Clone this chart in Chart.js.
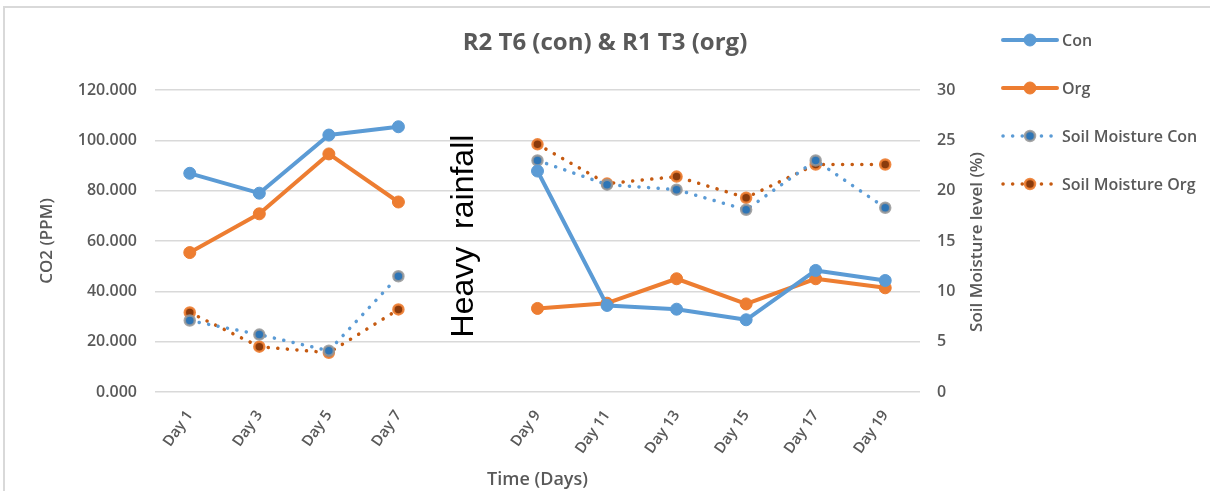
<!DOCTYPE html>
<html>
<head>
<meta charset="utf-8">
<script src="https://cdn.jsdelivr.net/npm/chart.js@4/dist/chart.umd.min.js"></script>
<style>
  html, body { margin: 0; padding: 0; background: #ffffff; }
  #wrap { width: 1210px; height: 491px; }
</style>
</head>
<body>
<div id="wrap"><canvas id="c" width="1210" height="491"></canvas></div>
<script>
// Sampling days (blank slot marks the heavy-rainfall break)
const days = ['Day 1', 'Day 3', 'Day 5', 'Day 7', '', 'Day 9', 'Day 11', 'Day 13', 'Day 15', 'Day 17', 'Day 19'];

// CO2 concentration (PPM)
const co2Con = [86.9, 79.0, 102.1, 105.4, null, 87.8, 34.4, 32.9, 28.7, 48.3, 44.3];
const co2Org = [55.4, 70.8, 94.6, 75.5, null, 33.2, 35.3, 45.0, 35.0, 45.0, 41.4];

// Soil moisture level (%)
const moistCon = [7.1, 5.7, 4.1, 11.5, null, 23.0, 20.6, 20.1, 18.1, 23.0, 18.3];
const moistOrg = [7.9, 4.5, 3.9, 8.2, null, 24.6, 20.7, 21.4, 19.3, 22.6, 22.6];

const co2Ticks = [0, 20, 40, 60, 80, 100, 120];
const moistTicks = [0, 5, 10, 15, 20, 25, 30];

const GREY = '#595959';
const FONT = "'Open Sans', 'Liberation Sans', sans-serif";

// White background + frame along the top and left edges
const framePlugin = {
  id: 'frame',
  beforeDraw(chart) {
    const ctx = chart.ctx;
    ctx.save();
    ctx.fillStyle = '#ffffff';
    ctx.fillRect(0, 0, chart.width, chart.height);
    ctx.strokeStyle = '#d9d9d9';
    ctx.lineWidth = 2;
    ctx.beginPath();
    ctx.moveTo(4, chart.height);
    ctx.lineTo(4, 7);
    ctx.lineTo(chart.width, 7);
    ctx.stroke();
    ctx.restore();
  }
};

// "Heavy rainfall" note in the blank slot, right-axis title and the legend
const annotatePlugin = {
  id: 'annotate',
  afterDatasetsDraw(chart) {
    const ctx = chart.ctx;
    const area = chart.chartArea;
    const x = chart.scales.x.getPixelForValue(4);

    ctx.save();
    ctx.translate(x - 4, 236);
    ctx.rotate(-Math.PI / 2);
    ctx.font = "32px 'Liberation Sans', Arial, sans-serif";
    ctx.fillStyle = '#000000';
    ctx.textAlign = 'center';
    ctx.textBaseline = 'middle';
    ctx.fillText('Heavy  rainfall', 0, 0);
    ctx.restore();

    ctx.save();
    ctx.translate(area.right + 57, 242);
    ctx.rotate(-Math.PI / 2);
    ctx.font = '600 17px ' + FONT;
    ctx.fillStyle = GREY;
    ctx.textAlign = 'center';
    ctx.textBaseline = 'middle';
    ctx.fillText('Soil Moisture level (%)', 0, 0);
    ctx.restore();

    // legend entries
    const lx0 = 1003, lx1 = 1057, lmid = 1030, tx = 1062;
    chart.data.datasets.forEach((ds, i) => {
      const y = 40 + 48 * i;
      ctx.save();
      ctx.strokeStyle = ds.borderColor;
      ctx.lineWidth = ds.borderWidth;
      ctx.lineCap = ds.borderCapStyle || 'butt';
      ctx.setLineDash(ds.borderDash || []);
      ctx.beginPath();
      ctx.moveTo(lx0, y);
      ctx.lineTo(lx1, y);
      ctx.stroke();
      ctx.setLineDash([]);
      ctx.beginPath();
      ctx.arc(lmid, y, ds.pointRadius, 0, Math.PI * 2);
      ctx.fillStyle = ds.pointBackgroundColor;
      ctx.fill();
      ctx.lineWidth = ds.pointBorderWidth;
      ctx.strokeStyle = ds.pointBorderColor;
      ctx.stroke();
      ctx.font = '600 16px ' + FONT;
      ctx.fillStyle = GREY;
      ctx.textAlign = 'left';
      ctx.textBaseline = 'middle';
      ctx.fillText(ds.label, tx, y + 1);
      ctx.restore();
    });
  }
};

const solid = (label, data, color) => ({
  label, data, yAxisID: 'y',
  borderColor: color, backgroundColor: color,
  borderWidth: 4, borderCapStyle: 'round', borderJoinStyle: 'round',
  pointRadius: 6, pointHoverRadius: 6,
  pointBackgroundColor: color, pointBorderColor: color, pointBorderWidth: 1,
  tension: 0, spanGaps: false
});

const dotted = (label, data, lineColor, fill, ring) => ({
  label, data, yAxisID: 'y1',
  borderColor: lineColor, backgroundColor: fill,
  borderWidth: 3.5, borderCapStyle: 'round', borderDash: [0.1, 9.5],
  pointRadius: 5, pointHoverRadius: 5,
  pointBackgroundColor: fill, pointBorderColor: ring, pointBorderWidth: 2.5,
  tension: 0, spanGaps: false
});

new Chart(document.getElementById('c'), {
  type: 'line',
  data: {
    labels: days,
    datasets: [
      solid('Con', co2Con, '#5b9bd5'),
      solid('Org', co2Org, '#ed7d31'),
      dotted('Soil Moisture Con', moistCon, '#5b9bd5', '#2e75b6', 'rgba(150,150,150,0.85)'),
      dotted('Soil Moisture Org', moistOrg, '#c55a11', '#8a3b0d', 'rgba(237,125,49,0.9)')
    ]
  },
  options: {
    responsive: false,
    animation: false,
    layout: { padding: { left: 0, right: 0, top: 0, bottom: 0 } },
    plugins: {
      legend: { display: false },
      tooltip: { enabled: false },
      title: {
        display: true,
        text: 'R2 T6 (con) & R1 T3 (org)',
        color: GREY,
        font: { family: FONT, size: 24, weight: 'bold', lineHeight: 1.2 },
        padding: { top: 28.6, bottom: 32.6 }
      }
    },
    scales: {
      x: {
        offset: true,
        grid: { display: false, drawTicks: false },
        border: { display: false },
        ticks: {
          color: GREY, autoSkip: false, minRotation: 55, maxRotation: 55, padding: 15,
          font: { family: FONT, size: 15, weight: '600' }
        },
        title: {
          display: true, text: 'Time (Days)', color: GREY,
          font: { family: FONT, size: 18, weight: '600', lineHeight: 1.2 },
          padding: { top: 0, bottom: 0 }
        },
        afterFit(scale) { scale.height = 99; }
      },
      y: {
        position: 'left',
        min: 0, max: 120,
        afterBuildTicks(scale) { scale.ticks = co2Ticks.map(v => ({ value: v })); },
        grid: { color: '#d9d9d9', lineWidth: 1.6, drawTicks: false },
        border: { display: false },
        ticks: {
          color: GREY, padding: 18,
          font: { family: FONT, size: 16, weight: '600' },
          callback: v => Number(v).toFixed(3)
        },
        title: {
          display: true, text: 'CO2 (PPM)', color: GREY,
          font: { family: FONT, size: 17, weight: '600', lineHeight: 1.2 },
          padding: { top: 37, bottom: 0 }
        },
        afterFit(scale) { scale.width = 155; }
      },
      y1: {
        position: 'right',
        min: 0, max: 30,
        afterBuildTicks(scale) { scale.ticks = moistTicks.map(v => ({ value: v })); },
        grid: { display: false, drawTicks: false },
        border: { display: false },
        ticks: {
          color: GREY, padding: 17,
          font: { family: FONT, size: 16, weight: '600' }
        },
        afterFit(scale) { scale.width = 290; }
      }
    }
  },
  plugins: [framePlugin, annotatePlugin]
});
</script>
</body>
</html>
